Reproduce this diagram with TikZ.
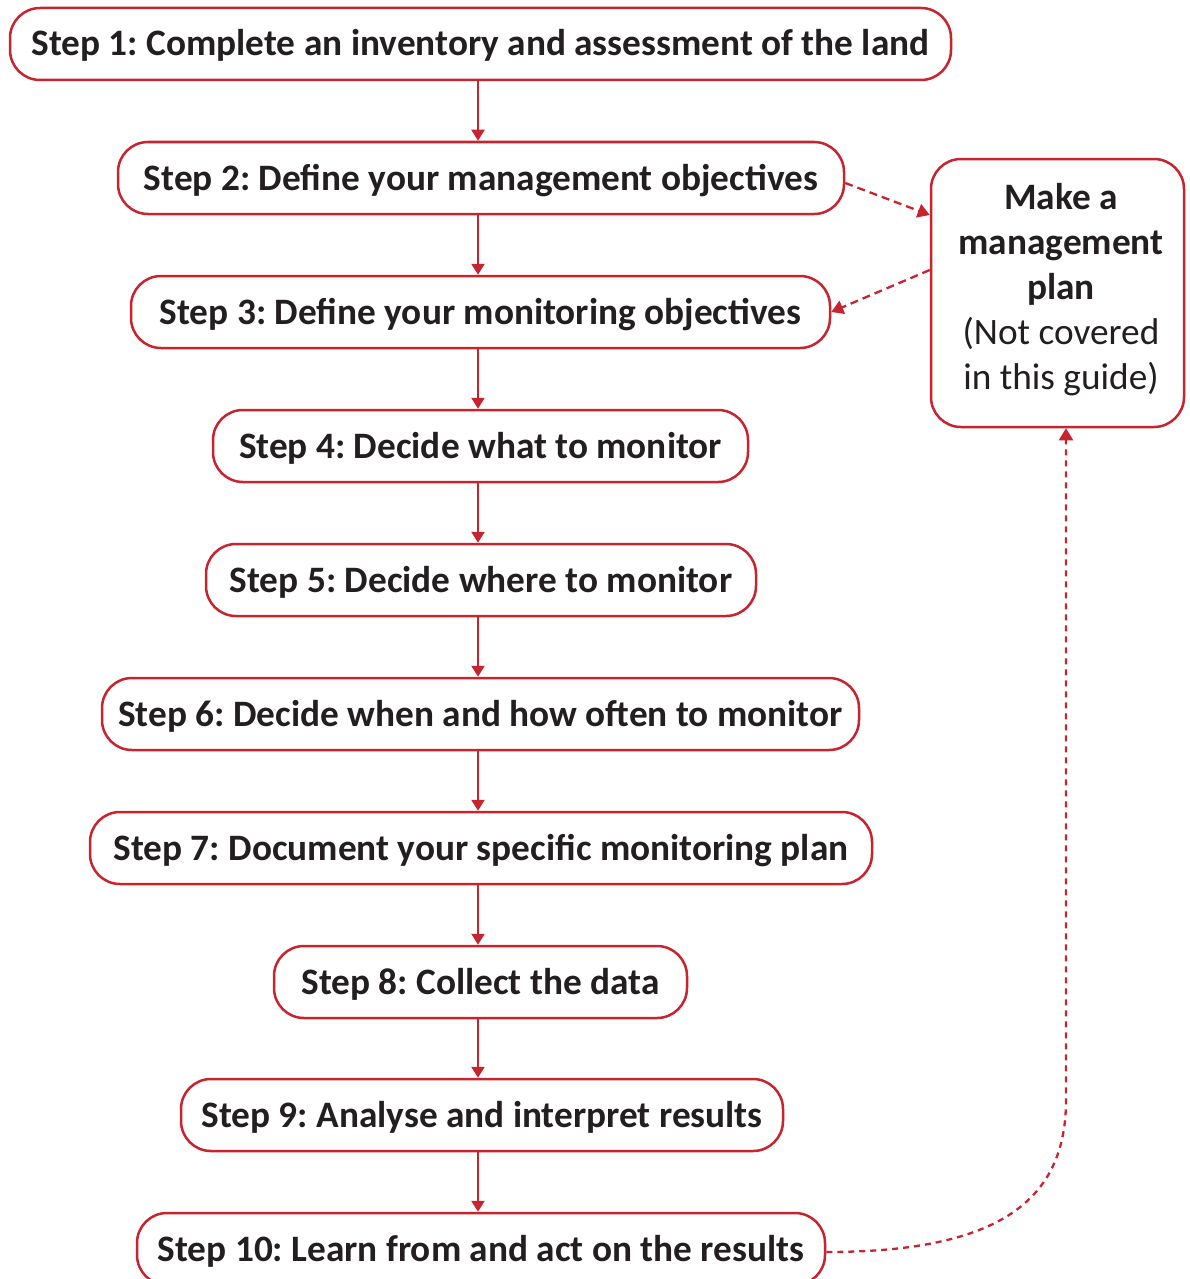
\documentclass[tikz,border=0pt]{standalone}
\usepackage{fontspec}
\setmainfont{Carlito}
\frenchspacing
\usetikzlibrary{arrows.meta}
\definecolor{boxred}{RGB}{198,36,46}
\definecolor{txt}{RGB}{35,31,32}
\tikzset{
  stepbox/.style={draw=boxred, line width=2.5pt, rounded corners=30pt, fill=white,
    minimum height=72pt, inner sep=0pt, text height=24pt, text depth=0pt,
    font=\fontsize{37.3}{44}\selectfont\bfseries, text=txt},
  sidebox/.style={draw=boxred, line width=2.5pt, rounded corners=30pt, fill=white,
    minimum width=253pt, minimum height=268pt, inner sep=0pt},
  sidetext/.style={font=\fontsize{37.3}{45}\selectfont, text=txt, align=center, inner sep=0pt},
  flow/.style={draw=boxred, line width=2.5pt, -{Triangle[width=13pt,length=11pt]}},
  dflow/.style={draw=boxred, line width=2.3pt, dash pattern=on 8pt off 5pt, -{Triangle[width=14pt,length=12pt]}},
  dotflow/.style={draw=boxred, line width=2.3pt, dash pattern=on 6pt off 5pt, -{Triangle[width=14pt,length=12pt]}},
}
\begin{document}
\begin{tikzpicture}[x=1pt,y=-1pt]
\useasboundingbox (0,0) rectangle (1189,1279);
\node[stepbox, minimum width=941pt] (s1) at (480.5,44) {Step 1: Complete an inventory and assessment of the land};
\node[stepbox, minimum width=726pt] (s2) at (481,178) {Step 2: Define your management objectives};
\node[stepbox, minimum width=699pt] (s3) at (480.5,312) {Step 3: Define your monitoring objectives};
\node[stepbox, minimum width=535pt] (s4) at (480.5,446) {Step 4: Decide what to monitor};
\node[stepbox, minimum width=550pt] (s5) at (481,580) {Step 5: Decide where to monitor};
\node[stepbox, minimum width=757pt] (s6) at (480.5,714) {Step 6: Decide when and how often to monitor};
\node[stepbox, minimum width=782pt] (s7) at (481,848) {Step 7: Document your specific monitoring plan};
\node[stepbox, minimum width=413pt] (s8) at (480.5,982) {Step 8: Collect the data};
\node[stepbox, minimum width=602pt] (s9) at (482,1115) {Step 9: Analyse and interpret results};
\node[stepbox, minimum width=688pt] (s10) at (481,1249) {Step 10: Learn from and act on the results};
\node[sidebox] (mp) at (1057.5,293) {};
\node[sidetext] (mptext) at (1061,290) {\textbf{Make a}\\\textbf{management}\\\textbf{plan}\\(Not covered\\in this guide)};
\foreach \a/\b in {s1/s2,s2/s3,s3/s4,s4/s5,s5/s6,s6/s7,s7/s8,s8/s9,s9/s10}
  \draw[flow] (\a.south -| 478,0) -- (\b.north -| 478,0);
\coordinate (mpin) at (mp.west |- 0,215);
\coordinate (mpout) at (mp.west |- 0,270);
\draw[dflow] (s2.east |- 0,183) -- (mpin);
\draw[dflow] (mpout) -- (s3.east |- 0,312);
\coordinate (mpb) at (mp.south -| 1066,0);
\draw[dotflow] (s10.east |- 0,1252) .. controls (1000,1252) and (1066,1200) .. (1066,1100) -- (mpb);
\end{tikzpicture}
\end{document}
